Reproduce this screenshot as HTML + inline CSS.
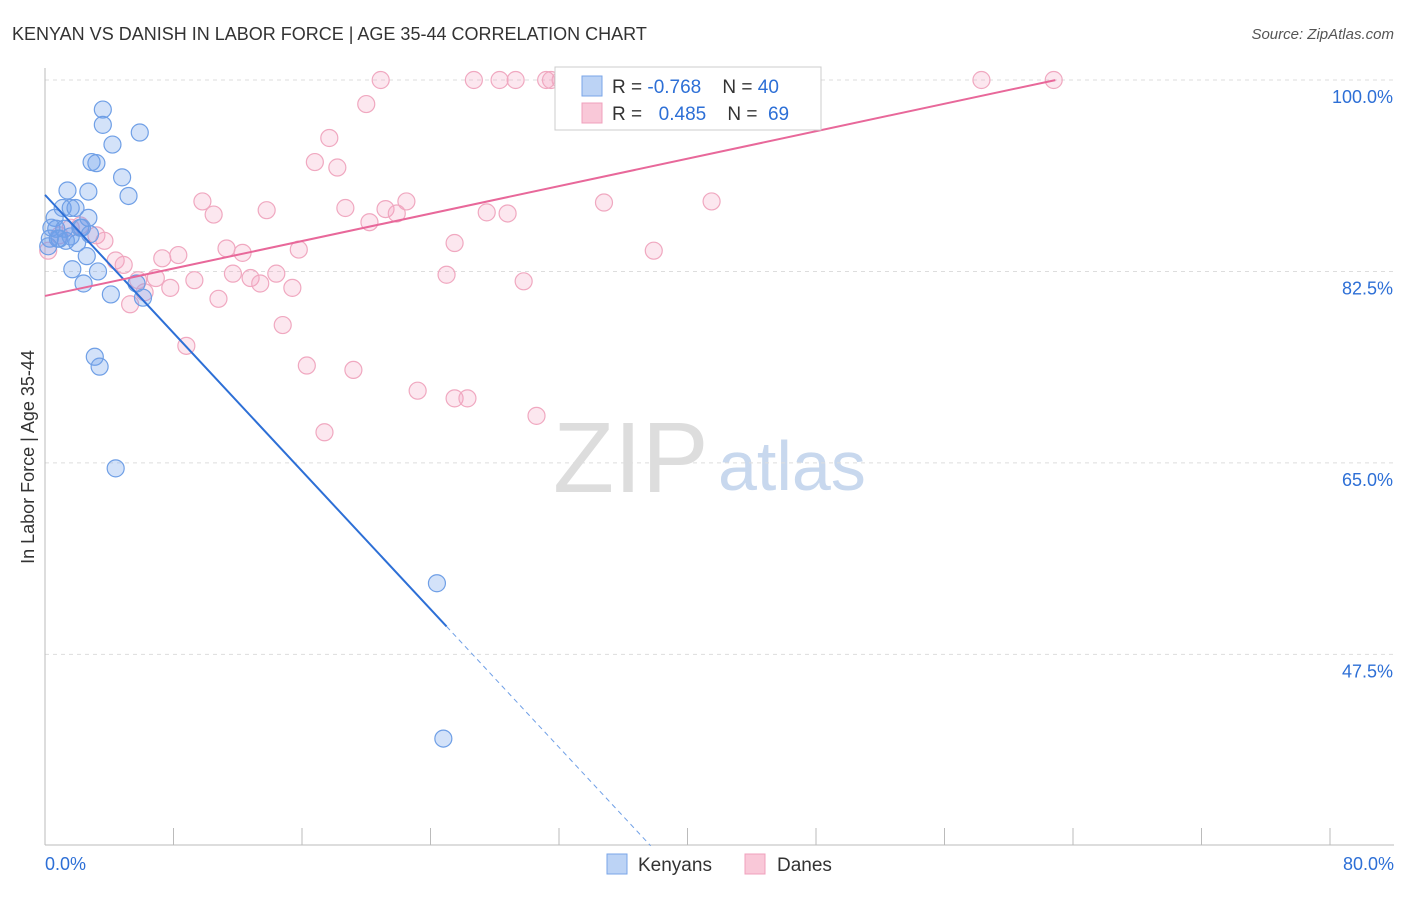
<!DOCTYPE html>
<html><head><meta charset="utf-8"><style>
body{margin:0;background:#fff;font-family:"Liberation Sans",sans-serif}
svg text{font-family:"Liberation Sans",sans-serif}
</style></head><body>
<svg id="chart" width="1406" height="892">
<text x="12" y="40" font-size="18" fill="#333">KENYAN VS DANISH IN LABOR FORCE | AGE 35-44 CORRELATION CHART</text>
<text x="1394" y="39" font-size="15" fill="#555" text-anchor="end" font-style="italic">Source: ZipAtlas.com</text>
<text x="553" y="492" font-size="100" fill="#ddd" font-family="Liberation Serif">ZIP</text>
<text x="718" y="490" font-size="70" fill="#c8d8ee">atlas</text>
<text transform="translate(34,457) rotate(-90)" font-size="18" fill="#333" text-anchor="middle">In Labor Force | Age 35-44</text>
<g id="grid"></g><g id="pts"></g><g id="lines"></g>
<rect x="555" y="67" width="266" height="63" fill="#fff" stroke="#ccc"/>
<rect x="582" y="76" width="20" height="20" fill="#bcd3f5" stroke="#7aa6e8"/>
<rect x="582" y="103" width="20" height="20" fill="#f9c8d8" stroke="#f0a0bc"/>
<text x="612" y="93" font-size="19" fill="#333" xml:space="preserve">R = <tspan fill="#2d6fd6">-0.768</tspan>    N = <tspan fill="#2d6fd6">40</tspan></text>
<text x="612" y="120" font-size="19" fill="#333" xml:space="preserve">R =  <tspan fill="#2d6fd6" dx="6">0.485</tspan>    N =  <tspan fill="#2d6fd6">69</tspan></text>
<rect x="607" y="854" width="20" height="20" fill="#bcd3f5" stroke="#7aa6e8"/>
<text x="638" y="871" font-size="19" fill="#333">Kenyans</text>
<rect x="745" y="854" width="20" height="20" fill="#f9c8d8" stroke="#f0a0bc"/>
<text x="777" y="871" font-size="19" fill="#333">Danes</text>
<text x="45" y="870" font-size="18" fill="#2d6fd6">0.0%</text>
<text x="1394" y="870" font-size="18" fill="#2d6fd6" text-anchor="end">80.0%</text>
</svg>
<script>
const yTicks=[100,82.5,65,47.5];
const yTickLabels=["100.0%","82.5%","65.0%","47.5%"];
const xTicks=[0,8,16,24,32,40,48,56,64,72,80];
const kenX=[0.3,0.6,0.7,0.9,1.1,1.2,1.4,1.6,1.7,1.9,2.0,2.2,2.4,2.6,2.7,2.7,2.9,3.1,3.2,3.3,3.4,3.6,3.6,4.1,4.2,4.4,4.8,5.2,5.9,6.1,24.4,24.8,0.4,0.8,1.3,2.3,0.2,1.6,2.8,5.7];
const kenY=[85.5,87.4,86.4,85.5,88.3,86.4,89.9,88.3,82.7,88.3,85.1,86.5,81.4,83.9,87.4,89.8,92.5,74.7,92.4,82.5,73.8,97.3,95.9,80.4,94.1,64.5,91.1,89.4,95.2,80.1,54.0,39.8,86.5,85.5,85.3,86.5,84.8,85.7,85.9,81.4];
const danX=[0.2,0.9,1.6,2.2,3.2,3.7,4.4,4.9,5.3,5.8,6.2,6.9,7.3,7.8,8.3,8.8,9.3,9.8,10.5,10.8,11.3,11.7,12.3,12.8,13.4,13.8,14.4,14.8,15.4,15.8,16.3,16.8,17.4,17.7,18.2,18.7,19.2,20.0,20.2,20.9,21.2,21.9,22.5,23.2,25.0,25.5,25.5,26.3,26.7,27.5,28.3,28.8,29.3,29.8,30.6,31.2,31.5,32.1,34.8,35.4,37.9,41.5,47.6,58.3,62.8];
const danY=[84.4,85.8,86.5,86.7,85.8,85.3,83.5,83.1,79.5,81.7,80.6,81.9,83.7,81.0,84.0,75.7,81.7,88.9,87.7,80.0,84.6,82.3,84.2,81.9,81.4,88.1,82.3,77.6,81.0,84.5,73.9,92.5,67.8,94.7,92.0,88.3,73.5,97.8,87.0,100,88.2,87.8,88.9,71.6,82.2,85.1,70.9,70.9,100,87.9,100,87.8,100,81.6,69.3,100,100,100,88.8,100,84.4,88.9,100,100,100];
const kenTrend=[89.5,-1.578];
const danTrend=[80.26,0.3137];
const NS="http://www.w3.org/2000/svg";
const X0=45,X1=1330,Y100=80,PPU=10.94,BOT=845;
function xs(v){return X0+(X1-X0)*v/80;}
function ys(v){return Y100+(100-v)*PPU;}
function mk(t,a,p){const e=document.createElementNS(NS,t);for(const k in a)e.setAttribute(k,a[k]);p.appendChild(e);return e;}
const grid=document.getElementById('grid');
yTicks.forEach((t,i)=>{
 const l=mk('line',{x1:X0,x2:1394,y1:ys(t),y2:ys(t),stroke:'#ddd','stroke-dasharray':'4 4'},grid);
 
 
 const tx=mk('text',{x:1393,y:ys(t)+23,'font-size':18,fill:'#2d6fd6','text-anchor':'end'},grid);
 tx.textContent=yTickLabels[i];
 
 
});
const ax=mk('line',{x1:X0,x2:1394,y1:BOT,y2:BOT,stroke:'#bbb'},grid);


const ay=mk('line',{x1:X0,x2:X0,y1:68,y2:BOT,stroke:'#bbb'},grid);


xTicks.forEach(t=>{const l=mk('line',{x1:xs(t),x2:xs(t),y1:BOT,y2:BOT-17,stroke:'#bbb'},grid);
 
 });
const pts=document.getElementById('pts');
danX.forEach((x,i)=>{const c=mk('circle',{cx:xs(x),cy:ys(danY[i]),r:8.5,fill:'rgba(245,160,190,0.25)',stroke:'#f0a8c0','stroke-width':1.2},pts);
 
 });
kenX.forEach((x,i)=>{const c=mk('circle',{cx:xs(x),cy:ys(kenY[i]),r:8.5,fill:'rgba(110,160,235,0.3)',stroke:'#6f9fe6','stroke-width':1.2},pts);
 
 });
const lines=document.getElementById('lines');
const [ka,kb]=kenTrend;
const kx1=25, kx2=(30-ka)/kb;
const l1=mk('line',{x1:xs(0),y1:ys(ka),x2:xs(kx1),y2:ys(ka+kb*kx1),stroke:'#2d6fd6','stroke-width':2},lines);


const l2=mk('line',{x1:xs(kx1),y1:ys(ka+kb*kx1),x2:xs(kx2),y2:ys(30),stroke:'#6f9fe6','stroke-width':1,'stroke-dasharray':'5 4'},lines);


const [da,db]=danTrend;
const dx2=62.9;
const l3=mk('line',{x1:xs(0),y1:ys(da),x2:xs(dx2),y2:ys(da+db*dx2),stroke:'#e8689a','stroke-width':2},lines);


</script>
</body></html>
